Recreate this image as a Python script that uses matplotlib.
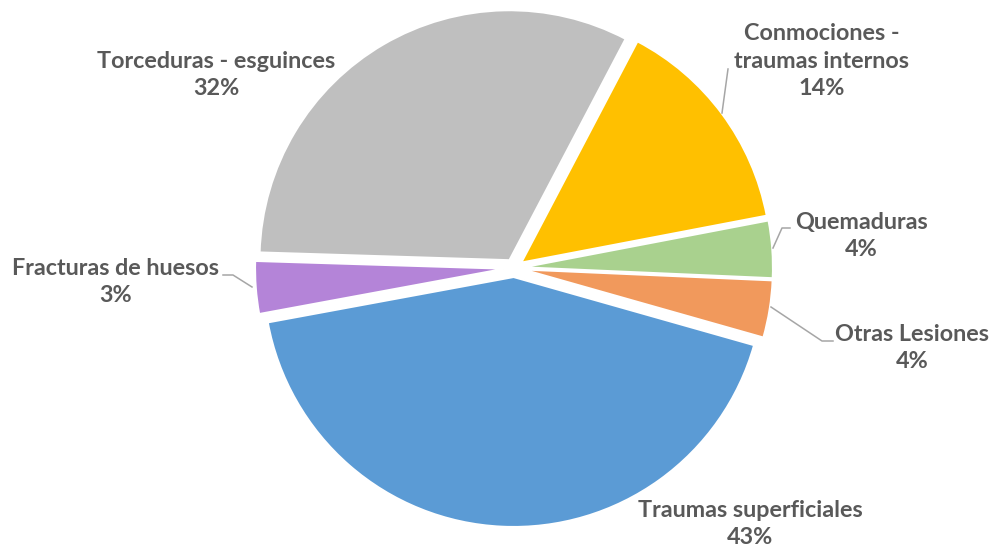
import matplotlib
matplotlib.use("Agg")
import matplotlib.pyplot as plt

# datos del grafico
categorias = ["Conmociones -\ntraumas internos", "Quemaduras", "Otras Lesiones",
              "Traumas superficiales", "Fracturas de huesos", "Torceduras - esguinces"]
valores = [14.3, 3.7, 3.7, 42.7, 3.4, 32.2]
porcentajes = ["14%", "4%", "4%", "43%", "3%", "32%"]
colores = ["#FFC000", "#A9D18E", "#F1995C", "#5B9BD5", "#B484D8", "#BFBFBF"]

W, H = 993, 549
fig = plt.figure(figsize=(W / 100, H / 100), dpi=100)
ax = fig.add_axes([0, 0, 1, 1])
ax.set_xlim(0, W)
ax.set_ylim(0, H)
ax.axis("off")


def py(y):
    # pasar de coordenadas de imagen (y hacia abajo) a ejes
    return H - y


# explode va en unidades de datos (pixeles aqui)
ax.pie(valores, colors=colores, startangle=62.3, counterclock=False,
       center=(514, py(268)), radius=250, explode=[9] * len(valores),
       wedgeprops=dict(edgecolor="white", linewidth=1.5), frame=False)
ax.set_xlim(0, W)
ax.set_ylim(0, H)
ax.set_aspect("equal")

# posiciones de las etiquetas (centro del bloque de texto)
pos_etiquetas = [(822, 61), (861, 236), (912, 348), (750, 524), (116, 282), (216, 75)]
for cat, pct, (x, y) in zip(categorias, porcentajes, pos_etiquetas):
    ax.text(x, py(y), cat + "\n" + pct, ha="center", va="center",
            fontsize=16.8, fontweight="bold", color="#595959",
            family=["Lato", "DejaVu Sans"], linespacing=1.4)

# lineas guia
guias = [
    [(728, 69), (722, 113)],
    [(790, 228), (782, 228), (773, 248)],
    [(833, 341), (822, 341), (771, 307)],
    [(223, 275), (233, 275), (252, 287)],
]
for g in guias:
    xs = [p[0] for p in g]
    ys = [py(p[1]) for p in g]
    ax.plot(xs, ys, color="#A6A6A6", linewidth=1.1)

fig.savefig("out.png", dpi=100)
